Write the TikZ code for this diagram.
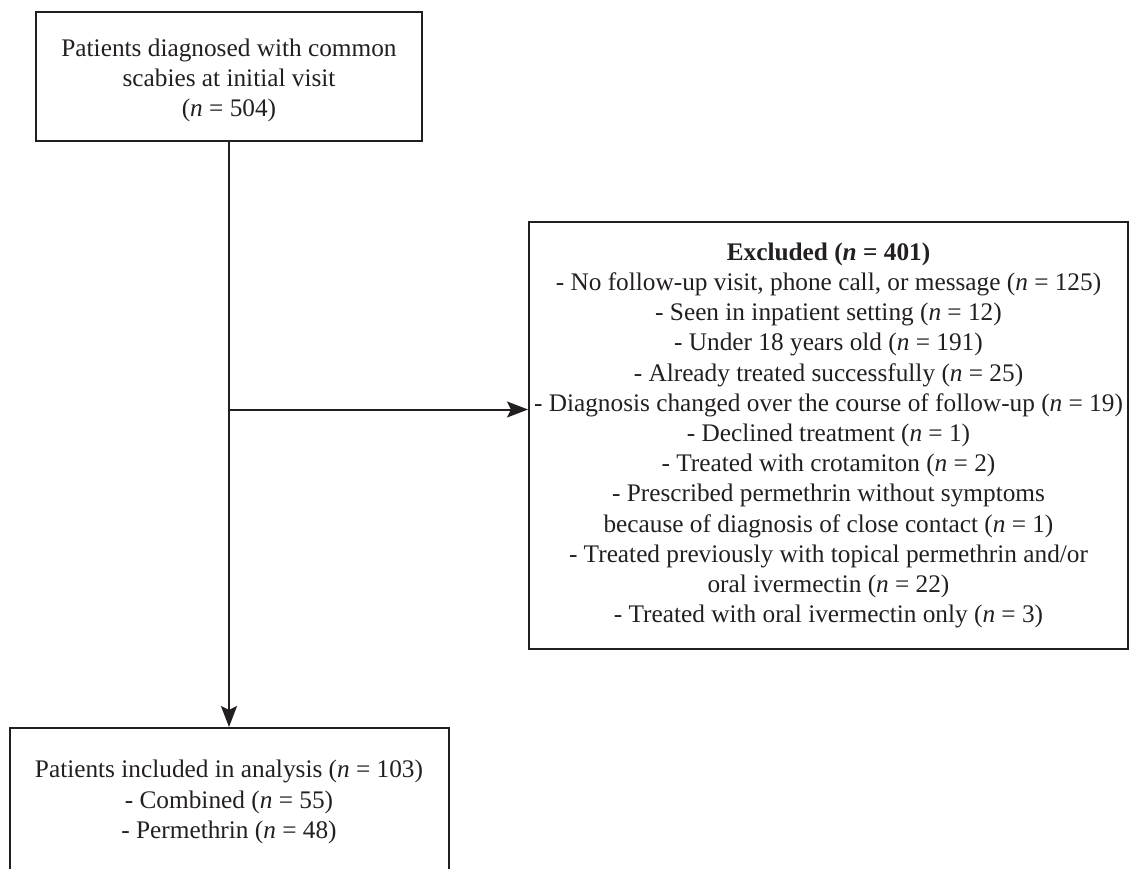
\documentclass[tikz,border=0pt]{standalone}
\usepackage{fontspec}
\setmainfont{Liberation Serif}
\usetikzlibrary{arrows.meta}
\definecolor{ink}{HTML}{231F20}
\begin{document}
\begin{tikzpicture}[x=1pt,y=1pt,
  box/.style={draw=ink, line width=2pt, text=ink, align=center, inner sep=0pt, anchor=north west},
  flow/.style={draw=ink, line width=2pt, -{Stealth[length=21pt,width=16pt,inset=4pt]}},
  txt/.style={font=\fontsize{25.3}{30.2}\selectfont}]
\useasboundingbox (0,0) rectangle (1129,-868);
\clip (0,0) rectangle (1129,-868);
\node[box, minimum width=386pt, minimum height=129pt] (top) at (35,-11) {};
\node[txt, text=ink, align=center, inner sep=0pt] (toptext) at ([yshift=-4pt]top.center)
  {Patients diagnosed with common\\scabies at initial visit\\(\textit{n} = 504)};
\node[box, txt, minimum width=599pt, minimum height=427pt] (excl) at (528,-221)
  {\textbf{Excluded (\textit{n} = 401)}\\
   - No follow-up visit, phone call, or message (\textit{n} = 125)\\
   - Seen in inpatient setting (\textit{n} = 12)\\
   - Under 18 years old (\textit{n} = 191)\\
   - Already treated successfully (\textit{n} = 25)\\
   - Diagnosis changed over the course of follow-up (\textit{n} = 19)\\
   - Declined treatment (\textit{n} = 1)\\
   - Treated with crotamiton (\textit{n} = 2)\\
   - Prescribed permethrin without symptoms\\
   because of diagnosis of close contact (\textit{n} = 1)\\
   - Treated previously with topical permethrin and/or\\
   oral ivermectin (\textit{n} = 22)\\
   - Treated with oral ivermectin only (\textit{n} = 3)};
\node[box, txt, minimum width=439pt, minimum height=148pt] (incl) at (8.5,-727)
  {Patients included in analysis (\textit{n} = 103)\\
   - Combined (\textit{n} = 55)\\
   - Permethrin (\textit{n} = 48)};
\coordinate (j) at (top.south |- 0,-409.5);
\draw[flow] (top.south) -- (top.south |- incl.north);
\draw[flow] (j) -- (j -| excl.west);
\end{tikzpicture}
\end{document}
